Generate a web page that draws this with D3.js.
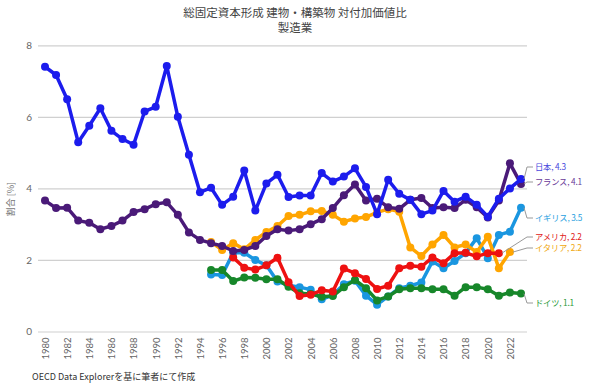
<!DOCTYPE html>
<html>
<head>
<meta charset="utf-8">
<script src="https://cdn.jsdelivr.net/npm/d3@7"></script>
<style>
  body { margin: 0; background: #fff; }
  text { font-family: "Noto Sans CJK JP", "Noto Sans", sans-serif; }
</style>
</head>
<body>
<div id="chart"></div>
<script>
/* global d3 */
let years = d3.range(1980, 2024)
let yTicks = [0, 2, 4, 6, 8]
let xTickYears = d3.range(1980, 2023, 2)

let japan = [7.40, 7.17, 6.49, 5.29, 5.75, 6.24, 5.61, 5.38, 5.22, 6.15, 6.28, 7.42, 6.00, 4.94, 3.89, 4.02, 3.54, 3.77, 4.50, 3.38,
  4.14, 4.38, 3.76, 3.80, 3.80, 4.43, 4.19, 4.33, 4.56, 4.04, 3.28, 4.24, 3.85, 3.68, 3.28, 3.38, 3.93, 3.63, 3.77, 3.54,
  3.21, 3.71, 4.00, 4.26]
let france = [3.66, 3.45, 3.46, 3.10, 3.04, 2.86, 2.95, 3.10, 3.34, 3.42, 3.56, 3.61, 3.26, 2.77, 2.56, 2.47, 2.39, 2.25, 2.28, 2.39,
  2.67, 2.86, 2.82, 2.86, 3.00, 3.14, 3.45, 3.81, 4.11, 3.66, 3.71, 3.47, 3.43, 3.68, 3.73, 3.45, 3.47, 3.45, 3.68, 3.47,
  3.19, 3.66, 4.70, 4.12]
let uk = [null, null, null, null, null, null, null, null, null, null, null, null, null, null, null, 1.59, 1.58, 2.20, 2.20, 2.00,
  1.85, 1.40, 1.29, 1.24, 1.17, 0.90, 1.02, 1.32, 1.42, 1.00, 0.75, 0.98, 1.21, 1.28, 1.37, 1.96, 1.77, 1.97, 2.19, 2.61,
  2.05, 2.70, 2.79, 3.46]
let usa = [null, null, null, null, null, null, null, null, null, null, null, null, null, null, null, null, null, 2.07, 1.78, 1.73,
  1.85, 2.06, 1.38, 0.99, 1.03, 1.15, 1.12, 1.76, 1.63, 1.47, 1.19, 1.28, 1.77, 1.84, 1.81, 2.07, 1.91, 2.19, 2.20, 2.10,
  2.19, 2.19, null, null]
let italy = [null, null, null, null, null, null, null, null, null, null, null, null, null, null, null, 2.50, 2.28, 2.47, 2.30, 2.56,
  2.78, 2.95, 3.23, 3.26, 3.36, 3.37, 3.26, 3.07, 3.16, 3.20, 3.33, 3.42, 3.35, 2.35, 2.11, 2.43, 2.70, 2.35, 2.43, 2.22,
  2.65, 1.77, 2.22, null]
let germany = [null, null, null, null, null, null, null, null, null, null, null, null, null, null, null, 1.72, 1.72, 1.41, 1.51, 1.50,
  1.46, 1.46, 1.25, 1.07, 1.05, 0.97, 0.99, 1.24, 1.44, 1.21, 0.87, 0.98, 1.18, 1.21, 1.21, 1.18, 1.18, 1.00, 1.24, 1.24,
  1.18, 1.00, 1.09, 1.06]

let seriesNames = ["イギリス", "ドイツ", "イタリア", "アメリカ", "フランス", "日本"]
let seriesValues = [uk, germany, italy, usa, france, japan]
let seriesColors = ["#1a96e0", "#17872a", "#ffa500", "#ee1111", "#4a1a78", "#1c1ced"]
let labelTextColors = ["#2aa0e0", "#2a9a3a", "#f0a810", "#e02020", "#6a3a98", "#4848dd"]
// label rows on the right, in px
let labelY = [218, 303, 248, 237, 182, 167]

let width = 590, height = 385

let svg = d3.select("#chart").append("svg")
  .attr("width", width)
  .attr("height", height)

let xScale = d3.scaleLinear().domain([1980, 2023]).range([45, 521])
let yScale = d3.scaleLinear().domain([0, 8]).range([331.5, 45.3])

// title
svg.append("text")
  .attr("x", 295).attr("y", 17)
  .attr("text-anchor", "middle")
  .attr("font-size", 11.5)
  .attr("fill", "#444")
  .text("総固定資本形成 建物・構築物 対付加価値比")
svg.append("text")
  .attr("x", 295).attr("y", 32)
  .attr("text-anchor", "middle")
  .attr("font-size", 11.5)
  .attr("fill", "#444")
  .text("製造業")

// grid + y axis
let yAxis = d3.axisLeft(yScale)
  .tickValues(yTicks)
  .tickSize(-(527 - 38))
  .tickPadding(6)
let gy = svg.append("g")
  .attr("transform", "translate(38,0)")
  .call(yAxis)
gy.select(".domain").remove()
gy.selectAll(".tick line").attr("stroke", "#d0d0d0").attr("stroke-width", 1.2)
gy.selectAll(".tick text")
  .attr("fill", "#666")
  .attr("font-size", 10)
  .style("font-family", "Lato, 'Noto Sans', sans-serif")

svg.append("text")
  .attr("transform", "translate(14," + yScale(3.7) + "),rotate(-90)")
  .attr("text-anchor", "middle")
  .attr("font-size", 9)
  .attr("fill", "#777")
  .text("割合 [%]")

// x axis labels, rotated
let xAxis = d3.axisBottom(xScale)
  .tickValues(xTickYears)
  .tickSize(0)
  .tickFormat(d3.format("d"))
let gx = svg.append("g")
  .attr("transform", "translate(0," + yScale(0) + ")")
  .call(xAxis)
gx.select(".domain").remove()
gx.selectAll(".tick text")
  .attr("fill", "#666")
  .attr("font-size", 9.5)
  .style("font-family", "Lato, 'Noto Sans', sans-serif")
  .attr("text-anchor", "end")
  .attr("transform", "rotate(-90)")
  .attr("x", -6)
  .attr("y", 0)
  .attr("dy", "0.35em")

// lines
let line = d3.line()
  .defined(d => d.v != null)
  .x(d => xScale(d.year))
  .y(d => yScale(d.v))

seriesValues.forEach(function(vals, i) {
  let pts = years.map((year, j) => ({year: year, v: vals[j]}))
  let g = svg.append("g").attr("class", "series")
  g.append("path")
    .datum(pts)
    .attr("fill", "none")
    .attr("stroke", seriesColors[i])
    .attr("stroke-width", 3.5)
    .attr("stroke-linejoin", "round")
    .attr("d", line)
  g.selectAll("circle")
    .data(pts.filter(d => d.v != null))
    .enter().append("circle")
    .attr("cx", d => xScale(d.year))
    .attr("cy", d => yScale(d.v))
    .attr("r", 4)
    .attr("fill", seriesColors[i])
})

// end labels with leader lines
seriesValues.forEach(function(vals, i) {
  let lastIdx = d3.max(vals.map((v, j) => v != null ? j : -1))
  let px = xScale(years[lastIdx]), py = yScale(vals[lastIdx])
  let ly = labelY[i]
  svg.append("path")
    .attr("fill", "none")
    .attr("stroke", "#999")
    .attr("stroke-width", 1)
    .attr("d", "M" + (px + 3) + "," + py + "L527," + ly + "L533," + ly)
  svg.append("text")
    .attr("x", 535).attr("y", ly)
    .attr("dy", "0.35em")
    .attr("font-size", 8.3)
    .attr("letter-spacing", -0.2)
    .attr("fill", labelTextColors[i])
    .text(seriesNames[i] + ", " + d3.format(".1f")(vals[lastIdx]))
})

svg.append("text")
  .attr("x", 32).attr("y", 380)
  .attr("font-size", 9)
  .attr("fill", "#333")
  .text("OECD Data Explorerを基に筆者にて作成")
</script>
</body>
</html>
